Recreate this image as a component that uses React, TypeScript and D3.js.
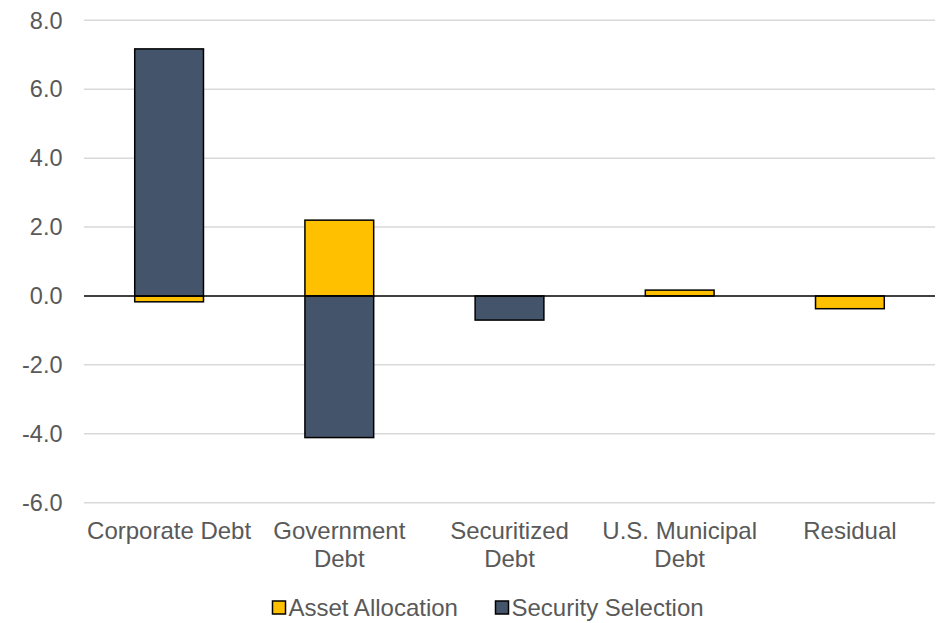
import React from "react";
import * as d3 from "d3";

const categories = ["Corporate Debt", "Government Debt", "Securitized Debt", "U.S. Municipal Debt", "Residual"];
const categoryLines = [["Corporate Debt"], ["Government", "Debt"], ["Securitized", "Debt"], ["U.S. Municipal", "Debt"], ["Residual"]];
const seriesNames = ["Asset Allocation", "Security Selection"];
const assetAllocation = [-0.17, 2.2, 0.0, 0.17, -0.37];
const securitySelection = [7.17, -4.11, -0.7, 0.0, 0.0];
const yTicks = [-6, -4, -2, 0, 2, 4, 6, 8];

const colors = ["#FFC000", "#44546A"];
const W = 939, H = 623;
const FONT = "'Liberation Sans', Arial, sans-serif";

export default function App() {
  const x = d3.scaleBand<string>().domain(categories).range([84, 935]).paddingInner(0.596).paddingOuter(0.298);
  const y = d3.scaleLinear().domain([-6, 8]).range([502.7, 20.3]);
  const rows = categories.map((c, i) => ({ cat: c, aa: assetAllocation[i], ss: securitySelection[i] }));
  const stack = d3.stack<any>().keys(["aa", "ss"]).offset(d3.stackOffsetDiverging);
  const layers = stack(rows);

  return (
    <svg width={W} height={H} style={{ position: "absolute", left: 0, top: 0, background: "#fff" }} fontFamily={FONT}>
      {yTicks.map((t) => (
        <g key={t}>
          {t !== 0 && <line x1={84} x2={935} y1={y(t)} y2={y(t)} stroke="#D9D9D9" strokeWidth={1.5} />}
          <text x={62.5} y={y(t)} dy="0.35em" textAnchor="end" fontSize={23.5} fill="#595959">{t.toFixed(1)}</text>
        </g>
      ))}
      {layers.map((layer, li) => (
        <g key={li}>
          {layer.map((d, i) => {
            const v = li === 0 ? assetAllocation[i] : securitySelection[i];
            if (v === 0) return null;
            const y0 = y(d[0]), y1 = y(d[1]);
            return (
              <rect key={i} x={x(categories[i])!} width={x.bandwidth()} y={Math.min(y0, y1)} height={Math.abs(y1 - y0)}
                fill={colors[li]} stroke="#000" strokeWidth={1.5} />
            );
          })}
        </g>
      ))}
      <line x1={84} x2={935} y1={y(0)} y2={y(0)} stroke="#000" strokeWidth={1.5} />
      {categoryLines.map((lines, i) => (
        <text key={i} x={x(categories[i])! + x.bandwidth() / 2} y={539} textAnchor="middle" fontSize={24} fill="#595959">
          {lines.map((l, j) => (
            <tspan key={j} x={x(categories[i])! + x.bandwidth() / 2} dy={j === 0 ? 0 : 28}>{l}</tspan>
          ))}
        </text>
      ))}
      <g>
        <rect x={272.5} y={601} width={13} height={13} fill={colors[0]} stroke="#000" strokeWidth={1.5} />
        <text x={288.5} y={616} fontSize={24} fill="#595959">{seriesNames[0]}</text>
        <rect x={495.5} y={601} width={13} height={13} fill={colors[1]} stroke="#000" strokeWidth={1.5} />
        <text x={511.5} y={616} fontSize={24} fill="#595959">{seriesNames[1]}</text>
      </g>
    </svg>
  );
}
